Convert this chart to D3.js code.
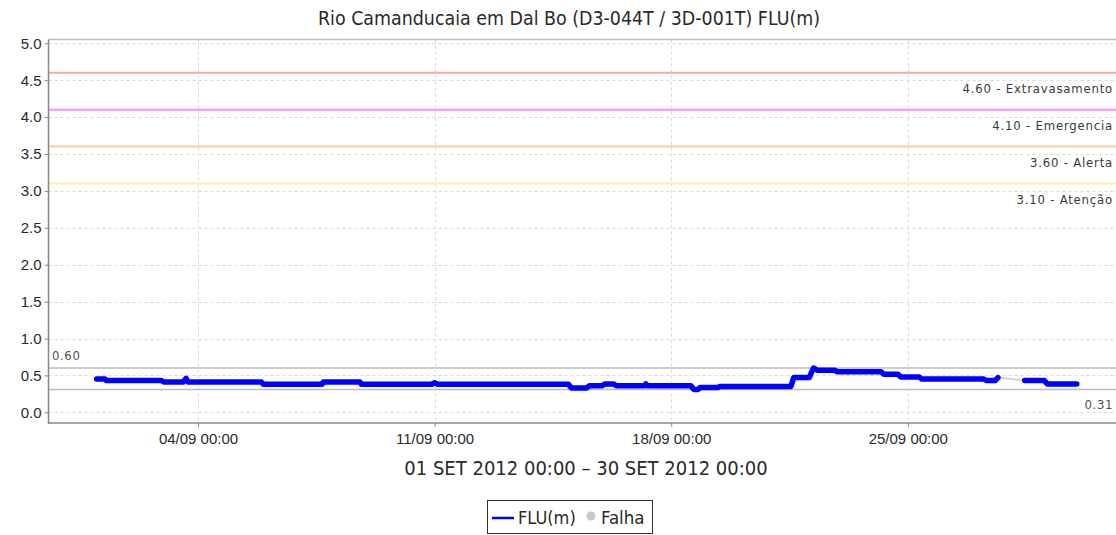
<!DOCTYPE html>
<html>
<head>
<meta charset="utf-8">
<script src="https://cdn.jsdelivr.net/npm/d3@7"></script>
<style>
  html, body { margin: 0; padding: 0; background: #fff; overflow: hidden; }
  svg { display: block; font-family: "DejaVu Sans Condensed", "DejaVu Sans", sans-serif; font-stretch: condensed; }
</style>
</head>
<body>
<svg id="chart" width="1116" height="535"></svg>
<script>
// Station level readings (FLU, metres), September 2012
const times1 = [
  "2012-09-01T00:00","2012-09-01T06:00","2012-09-01T07:00","2012-09-02T22:00","2012-09-03T00:00",
  "2012-09-03T13:30","2012-09-03T15:30","2012-09-03T17:00","2012-09-05T21:00","2012-09-05T22:30",
  "2012-09-07T16:00","2012-09-07T17:00","2012-09-08T19:00","2012-09-08T20:00","2012-09-10T22:00",
  "2012-09-11T00:00","2012-09-11T02:00","2012-09-14T23:00","2012-09-15T01:00","2012-09-15T12:00",
  "2012-09-15T14:00","2012-09-15T23:00","2012-09-16T01:00","2012-09-16T07:00","2012-09-16T09:00",
  "2012-09-17T05:00","2012-09-17T06:00","2012-09-17T07:00","2012-09-18T14:00","2012-09-18T16:00",
  "2012-09-18T19:00","2012-09-18T20:30","2012-09-19T09:00","2012-09-19T10:30","2012-09-21T13:00",
  "2012-09-21T15:00","2012-09-22T02:00","2012-09-22T05:00","2012-09-22T08:00","2012-09-22T20:00",
  "2012-09-22T22:00","2012-09-24T05:00","2012-09-24T07:00","2012-09-24T17:00","2012-09-24T19:00",
  "2012-09-25T08:00","2012-09-25T10:00","2012-09-27T06:00","2012-09-27T08:00","2012-09-27T14:00",
  "2012-09-27T16:00"
];
const values1 = [
  0.45, 0.45, 0.43, 0.43, 0.41,
  0.41, 0.46, 0.41, 0.41, 0.38,
  0.38, 0.41, 0.41, 0.38, 0.38,
  0.40, 0.38, 0.38, 0.33, 0.33,
  0.36, 0.36, 0.385, 0.385, 0.36,
  0.36, 0.385, 0.36, 0.36, 0.31,
  0.31, 0.335, 0.335, 0.35, 0.35,
  0.47, 0.47, 0.60, 0.57, 0.57,
  0.55, 0.55, 0.515, 0.515, 0.48,
  0.48, 0.45, 0.45, 0.43, 0.43,
  0.47
];
const times2 = ["2012-09-28T11:00","2012-09-29T01:00","2012-09-29T03:00","2012-09-30T00:00"];
const values2 = [0.43, 0.43, 0.385, 0.385];

// Missing-data stretch (Falha)
const gapTimes = ["2012-09-27T16:00","2012-09-28T11:00"];
const gapValues = [0.47, 0.43];

// Reference levels
const levelValues = [4.60, 4.10, 3.60, 3.10];
const levelNames = ["Extravasamento", "Emergencia", "Alerta", "Atenção"];
const levelColors = ["#ffa3a3", "#ff8cff", "#ffcc99", "#fff099"];

// Period max / min
const maxValue = 0.60;
const minValue = 0.31;

const yTicks = [0, 0.5, 1, 1.5, 2, 2.5, 3, 3.5, 4, 4.5, 5];
const xTickLabels = ["2012-09-04T00:00","2012-09-11T00:00","2012-09-18T00:00","2012-09-25T00:00"];

const title = "Rio Camanducaia em Dal Bo (D3-044T / 3D-001T) FLU(m)";
const subtitle = "01 SET 2012 00:00 \u2013 30 SET 2012 00:00";

const parse = d3.timeParse("%Y-%m-%dT%H:%M");
const fmt = d3.timeFormat("%d/%m %H:%M");

const svg = d3.select("#chart");

const plot = { left: 48.5, top: 39.5, right: 1125, bottom: 423 };

const x = d3.scaleTime()
  .domain([parse("2012-09-01T00:00"), parse("2012-09-30T00:00")])
  .range([96.6, 1076.8]);
const y = d3.scaleLinear().domain([0, 5]).range([412.3, 43.3]);

// Title
svg.append("text")
  .attr("x", 569).attr("y", 25)
  .attr("text-anchor", "middle")
  .attr("font-size", 19.4).attr("fill", "#2a2a2a")
  .text(title);

const g = svg.append("g");

// Gridlines
g.selectAll(".hgrid").data(yTicks).join("line")
  .attr("x1", plot.left).attr("x2", plot.right)
  .attr("y1", d => Math.round(y(d)) + 0.5).attr("y2", d => Math.round(y(d)) + 0.5)
  .attr("stroke", "#d9d9d9").attr("stroke-width", 1).attr("stroke-dasharray", "3,3");

const xt = xTickLabels.map(parse);
g.selectAll(".vgrid").data(xt).join("line")
  .attr("x1", d => Math.round(x(d)) + 0.5).attr("x2", d => Math.round(x(d)) + 0.5)
  .attr("y1", plot.top).attr("y2", plot.bottom)
  .attr("stroke", "#d9d9d9").attr("stroke-width", 1).attr("stroke-dasharray", "3,3");

// Top border
g.append("line")
  .attr("x1", plot.left).attr("x2", plot.right)
  .attr("y1", plot.top).attr("y2", plot.top)
  .attr("stroke", "#c0c0c0").attr("stroke-width", 1.5);

// Reference level lines and labels
levelValues.forEach((v, i) => {
  g.append("line")
    .attr("x1", plot.left).attr("x2", plot.right)
    .attr("y1", y(v)).attr("y2", y(v))
    .attr("stroke", levelColors[i]).attr("stroke-width", 2);
  g.append("text")
    .attr("x", 1113).attr("y", y(v) + 20)
    .attr("text-anchor", "end")
    .attr("font-size", 13).attr("fill", "#3a3a3a")
    .attr("letter-spacing", 0.8)
    .text(v.toFixed(2) + " - " + levelNames[i]);
});

// Max / min markers
g.append("line")
  .attr("x1", plot.left).attr("x2", plot.right)
  .attr("y1", y(maxValue)).attr("y2", y(maxValue))
  .attr("stroke", "#bdbdbd").attr("stroke-width", 1.5);
g.append("text")
  .attr("x", 52).attr("y", y(maxValue) - 8)
  .attr("font-size", 13).attr("fill", "#505050").attr("letter-spacing", 0.6)
  .text(maxValue.toFixed(2));
g.append("line")
  .attr("x1", plot.left).attr("x2", plot.right)
  .attr("y1", y(minValue)).attr("y2", y(minValue))
  .attr("stroke", "#bdbdbd").attr("stroke-width", 1.5);
g.append("text")
  .attr("x", 1113).attr("y", y(minValue) + 20)
  .attr("text-anchor", "end")
  .attr("font-size", 13).attr("fill", "#505050").attr("letter-spacing", 0.6)
  .text(minValue.toFixed(2));

// Series
const line = d3.line().x(d => x(d[0])).y(d => y(d[1]));
const seg1 = times1.map((t, i) => [parse(t), values1[i]]);
const seg2 = times2.map((t, i) => [parse(t), values2[i]]);
const gap = gapTimes.map((t, i) => [parse(t), gapValues[i]]);

g.append("path").datum(gap)
  .attr("d", line).attr("fill", "none")
  .attr("stroke", "#c8c8c8").attr("stroke-width", 1.5);

[seg1, seg2].forEach(seg => {
  g.append("path").datum(seg)
    .attr("d", line).attr("fill", "none")
    .attr("stroke", "#0000ff").attr("stroke-width", 5.5)
    .attr("stroke-linejoin", "round").attr("stroke-linecap", "round");
});

// Y axis
const yAxis = d3.axisLeft(y).tickValues(yTicks).tickFormat(d3.format(".1f")).tickSize(4).tickPadding(3);
const ya = svg.append("g").attr("transform", `translate(${plot.left},0)`).call(yAxis);
ya.select(".domain").remove();
ya.append("line").attr("x1", 0).attr("x2", 0).attr("y1", plot.top).attr("y2", plot.bottom + 1)
  .attr("stroke", "#888").attr("stroke-width", 1.5);
ya.selectAll(".tick line").attr("stroke", "#888");
ya.selectAll(".tick text").attr("font-size", 15).attr("fill", "#2a2a2a")
  .attr("font-family", null);

// X axis
const xAxis = d3.axisBottom(x).tickValues(xt).tickFormat(fmt).tickSize(4).tickPadding(6);
const xa = svg.append("g").attr("transform", `translate(0,${plot.bottom})`).call(xAxis);
xa.select(".domain").remove();
xa.append("line").attr("x1", plot.left).attr("x2", plot.right).attr("y1", 0).attr("y2", 0)
  .attr("stroke", "#888").attr("stroke-width", 1.5);
xa.selectAll(".tick line").attr("stroke", "#888");
xa.selectAll(".tick text").attr("font-size", 15).attr("fill", "#2a2a2a")
  .attr("font-family", null);

// Period subtitle
svg.append("text")
  .attr("x", 586).attr("y", 475)
  .attr("text-anchor", "middle")
  .attr("font-size", 20).attr("fill", "#2a2a2a")
  .text(subtitle);

// Legend
const leg = svg.append("g");
leg.append("rect").attr("x", 487.5).attr("y", 500.5).attr("width", 165).attr("height", 33)
  .attr("fill", "#fff").attr("stroke", "#333").attr("stroke-width", 1);
leg.append("line").attr("x1", 492).attr("x2", 514).attr("y1", 518).attr("y2", 518)
  .attr("stroke", "#0000ff").attr("stroke-width", 2.5);
leg.append("text").attr("x", 518).attr("y", 524).attr("font-size", 18).attr("fill", "#2a2a2a").text("FLU(m)");
leg.append("circle").attr("cx", 591).attr("cy", 516).attr("r", 4.5).attr("fill", "#c8c8c8");
leg.append("text").attr("x", 601).attr("y", 524).attr("font-size", 18.5).attr("fill", "#2a2a2a").text("Falha");
</script>
</body>
</html>
